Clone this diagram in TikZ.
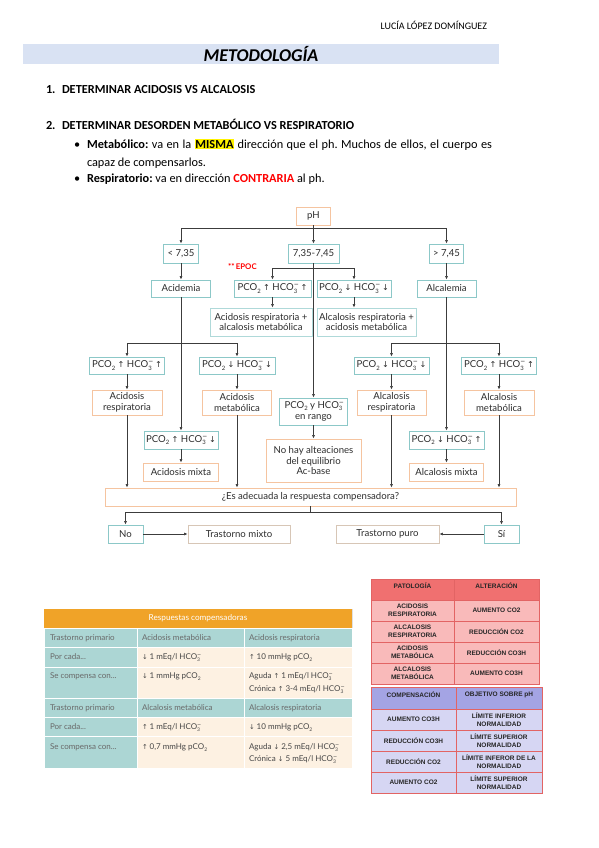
\documentclass[tikz,border=0pt]{standalone}
\usepackage{fontspec}
\setmainfont{Carlito}
\newfontfamily\flow{Lato}
\newfontfamily\arialf{Liberation Sans}
\newfontfamily\symf{DejaVu Sans}
\usetikzlibrary{arrows.meta}
\definecolor{tealb}{RGB}{140,200,200}
\definecolor{tealc}{RGB}{172,214,212}
\definecolor{orangeb}{RGB}{245,196,160}
\definecolor{tanb}{RGB}{215,198,182}
\definecolor{linec}{RGB}{60,60,60}
\definecolor{txt}{RGB}{45,45,45}
\definecolor{band}{RGB}{217,226,243}
\definecolor{orng}{RGB}{240,163,40}
\definecolor{cream}{RGB}{253,241,226}
\definecolor{graytxt}{RGB}{105,105,105}
\definecolor{darktxt}{RGB}{70,70,70}
\definecolor{redh}{RGB}{240,112,112}
\definecolor{redr}{RGB}{249,186,186}
\definecolor{redb}{RGB}{226,100,100}
\definecolor{blueh}{RGB}{164,164,228}
\definecolor{bluer}{RGB}{214,214,243}
\newcommand\upa{{\symf\scalebox{0.85}{\char"2191}}}
\newcommand\dna{{\symf\scalebox{0.85}{\char"2193}}}
\newcommand\smallidx[1]{{\fontsize{0.62em}{0.62em}\selectfont #1}}
\newcommand\pcoo{PCO\raisebox{-0.45ex}{\smallidx{2}}}
\newcommand\hcoo{HCO\rlap{\raisebox{0.85ex}{\smallidx{\symf\char"2212}}}\raisebox{-0.45ex}{\smallidx{3}}\hspace{0.1em}}
\newcommand\pcol{pCO\raisebox{-0.45ex}{\smallidx{2}}}
\tikzset{
  tbox/.style={draw=tealb, line width=0.9pt, fill=white, text=txt,
    font=\flow\fontsize{9.6}{10.8}\selectfont, inner sep=1pt, align=center},
  obox/.style={tbox, draw=orangeb},
  bbox/.style={tbox, draw=tanb},
  arr/.style={draw=linec, line width=0.6pt, -{Latex[length=3.5pt,width=3pt]}},
  ln/.style={draw=linec, line width=0.6pt},
  txtn/.style={inner sep=0pt, outer sep=0pt},
  body/.style={txtn, anchor=base west, font=\fontsize{12.3}{14}\selectfont},
  tcell/.style={txtn, anchor=base west, font=\flow\fontsize{8}{9.5}\selectfont},
  rcell/.style={txtn, align=center, font=\arialf\bfseries\fontsize{6.5}{7.6}\selectfont, text=black!85}
}
\begin{document}
\begin{tikzpicture}[x=1pt,y=-1pt]
\useasboundingbox (0,0) rectangle (599,848);
\fill[white] (0,0) rectangle (599,848);

% ---------- header ----------
\node[txtn, anchor=base east, font=\fontsize{10}{12}\selectfont] (author) at (487,29.5) {LUCÍA LÓPEZ DOMÍNGUEZ};
\fill[band] (23,44) rectangle (499,64);
\node[txtn, font=\fontsize{18}{20}\selectfont\bfseries\itshape] (title) at (261,54) {METODOLOGÍA};

\node[body, font=\fontsize{12.3}{14}\selectfont\bfseries] (n1) at (46,94) {1.};
\node[body, font=\fontsize{12.3}{14}\selectfont\bfseries] (t1) at (62,94) {DETERMINAR ACIDOSIS VS ALCALOSIS};
\node[body, font=\fontsize{12.3}{14}\selectfont\bfseries] (n2) at (46,129) {2.};
\node[body, font=\fontsize{12.3}{14}\selectfont\bfseries] (t2) at (62,129) {DETERMINAR DESORDEN METABÓLICO VS RESPIRATORIO};
\node[body] (b1) at (74,148) {\textbullet};
\node[body] (l1) at (87,148) {\frenchspacing\setlength\fboxsep{0.6pt}\makebox[405pt][s]{\bfseries Metabólico: \mdseries va en la \colorbox{yellow}{\bfseries MISMA} dirección que el ph. Muchos de ellos, el cuerpo es}};
\node[body] (l2) at (87,166) {capaz de compensarlos.};
\node[body] (b2) at (74,182) {\textbullet};
\node[body] (l3) at (87,182) {\frenchspacing\bfseries Respiratorio: \mdseries va en dirección {\color{red}\bfseries CONTRARIA} al ph.};

% ---------- flowchart ----------
\node[obox, minimum width=34pt, minimum height=18pt] (ph) at (313.5,216) {pH};
\node[tbox, minimum width=35pt, minimum height=19pt] (lt) at (181,253.5) {< 7,35};
\node[tbox, minimum width=51pt, minimum height=19pt] (mid) at (313.5,253.5) {7,35-7,45};
\node[tbox, minimum width=34pt, minimum height=19pt] (gt) at (446.5,253.5) {> 7,45};
\node[txtn, anchor=west, text=red, font=\flow\bfseries\fontsize{7.8}{9}\selectfont] (epoc) at (228,267) {**\,EPOC};
\node[tbox, minimum width=59pt, minimum height=17pt] (acidemia) at (181,288.5) {Acidemia};
\node[tbox, minimum width=77pt, minimum height=17pt] (c1) at (272.5,288.5) {\pcoo\ \upa\ \hcoo\ \upa};
\node[tbox, minimum width=74pt, minimum height=17pt] (c2) at (354,288.5) {\pcoo\ \dna\ \hcoo\ \dna};
\node[tbox, minimum width=59pt, minimum height=17pt] (alcalemia) at (446.5,288.5) {Alcalemia};
\node[tbox, minimum width=102pt, minimum height=28pt, draw=tealb!70] (c1r) at (261,322) {Acidosis respiratoria +\\alcalosis metabólica};
\node[tbox, minimum width=99pt, minimum height=28pt, draw=tealb!70] (c2r) at (366.5,322) {Alcalosis respiratoria +\\acidosis metabólica};

\node[tbox, minimum width=75pt, minimum height=17pt] (a1) at (127,365.5) {\pcoo\ \upa\ \hcoo\ \upa};
\node[tbox, minimum width=76pt, minimum height=17pt] (a2) at (237,365.5) {\pcoo\ \dna\ \hcoo\ \dna};
\node[tbox, minimum width=75pt, minimum height=17pt] (bb1) at (391.5,365.5) {\pcoo\ \dna\ \hcoo\ \dna};
\node[tbox, minimum width=75pt, minimum height=17pt] (bb2) at (499,365.5) {\pcoo\ \upa\ \hcoo\ \upa};

\node[obox, minimum width=70pt, minimum height=25pt] (ar) at (127,402.5) {Acidosis\\respiratoria};
\node[obox, minimum width=69pt, minimum height=25pt] (am) at (237,402.5) {Acidosis\\metabólica};
\node[obox, minimum width=69pt, minimum height=25pt] (lr) at (391.5,402.5) {Alcalosis\\respiratoria};
\node[obox, minimum width=70pt, minimum height=25pt] (lm) at (499,402.5) {Alcalosis\\metabólica};

\node[tbox, minimum width=68pt, minimum height=27pt] (rango) at (313.5,411.5) {\pcoo\ y \hcoo\\en rango};
\node[obox, minimum width=95pt, minimum height=43pt] (nohay) at (313.5,460.5) {No hay alteaciones\\del equilibrio\\Ac-base};

\node[tbox, minimum width=74pt, minimum height=18pt] (a3) at (181,440) {\pcoo\ \upa\ \hcoo\ \dna};
\node[obox, minimum width=75pt, minimum height=18pt] (amix) at (181,472) {Acidosis mixta};
\node[tbox, minimum width=75pt, minimum height=18pt] (bb3) at (446.5,440) {\pcoo\ \dna\ \hcoo\ \upa};
\node[obox, minimum width=74pt, minimum height=18pt] (bmix) at (446.5,472) {Alcalosis mixta};

\node[obox, minimum width=411pt, minimum height=18pt] (es) at (310.5,497) {¿Es adecuada la respuesta compensadora?};
\node[tbox, minimum width=35pt, minimum height=18pt] (no) at (125.5,534) {No};
\node[bbox, minimum width=102pt, minimum height=18pt] (tmix) at (239,534) {Trastorno mixto};
\node[bbox, minimum width=103pt, minimum height=18pt] (tpuro) at (387.5,534) {Trastorno puro};
\node[tbox, minimum width=35pt, minimum height=18pt] (si) at (501.5,534) {Sí};

\coordinate (j1) at (313.5,228);
\coordinate (j2) at (313.5,268);
\coordinate (j3) at (181,343);
\coordinate (j4) at (446.5,343);
\coordinate (j5) at (310.5,512);

\draw[arr] (ph.south) -- (mid.north);
\draw[arr] (j1) -| (lt.north);
\draw[arr] (j1) -| (gt.north);
\draw[arr] (lt.south) -- (acidemia.north);
\draw[arr] (gt.south) -- (alcalemia.north);
\draw[arr] (mid.south) -- (rango.north);
\draw[arr] (j2) -| (c1.north);
\draw[arr] (j2) -| (c2.north);
\draw[arr] (c1.south) -- (c1.south |- c1r.north);
\draw[arr] (c2.south) -- (c2.south |- c2r.north);
\draw[arr] (acidemia.south) -- (a3.north);
\draw[arr] (alcalemia.south) -- (bb3.north);
\draw[arr] (j3) -| (a1.north);
\draw[arr] (j3) -| (a2.north);
\draw[arr] (j4) -| (bb1.north);
\draw[arr] (j4) -| (bb2.north);
\draw[arr] (a1.south) -- (ar.north);
\draw[arr] (a2.south) -- (am.north);
\draw[arr] (bb1.south) -- (lr.north);
\draw[arr] (bb2.south) -- (lm.north);
\draw[arr] (a3.south) -- (amix.north);
\draw[arr] (bb3.south) -- (bmix.north);
\draw[arr] (rango.south) -- (nohay.north);
\draw[arr] (ar.south) -- (ar.south |- es.north);
\draw[arr] (am.south) -- (am.south |- es.north);
\draw[arr] (lr.south) -- (lr.south |- es.north);
\draw[arr] (lm.south) -- (lm.south |- es.north);
\draw[ln] (es.south) -- (j5);
\draw[arr] (j5) -| (no.north);
\draw[arr] (j5) -| (si.north);
\draw[arr] (no.east) -- (tmix.west);
\draw[arr] (si.west) -- (tpuro.east);

% ---------- left table ----------
\draw[black!12, line width=0.6pt] (44,609) rectangle (352,768);
\fill[orng] (44,609) rectangle (352,628);
\node[txtn, text=white, font=\flow\fontsize{8.2}{9.5}\selectfont] (th) at (198,618.5) {Respuestas compensadoras};
\foreach \ya/\yb in {628/647,698/717} {
  \filldraw[fill=tealc, draw=white, line width=1pt] (44,\ya) rectangle (137,\yb);
  \filldraw[fill=tealc, draw=white, line width=1pt] (137,\ya) rectangle (244,\yb);
  \filldraw[fill=tealc, draw=white, line width=1pt] (244,\ya) rectangle (352,\yb);
}
\foreach \ya/\yb in {647/667,667/698,717/736,736/768} {
  \filldraw[fill=tealc, draw=white, line width=1pt] (44,\ya) rectangle (137,\yb);
  \filldraw[fill=cream, draw=white, line width=1pt] (137,\ya) rectangle (244,\yb);
  \filldraw[fill=cream, draw=white, line width=1pt] (244,\ya) rectangle (352,\yb);
}
\node[tcell, text=graytxt] (r1a) at (50,640.5) {Trastorno primario};
\node[tcell, text=graytxt] (r1b) at (142,640.5) {Acidosis metabólica};
\node[tcell, text=graytxt] (r1c) at (249,640.5) {Acidosis respiratoria};
\node[tcell, text=graytxt] (r2a) at (50,659.5) {Por cada...};
\node[tcell, text=darktxt] (r2b) at (142,659.5) {\dna\ 1 mEq/l \hcoo};
\node[tcell, text=darktxt] (r2c) at (249,659.5) {\upa\ 10 mmHg \pcol};
\node[tcell, text=graytxt] (r3a) at (50,678.5) {Se compensa con...};
\node[tcell, text=darktxt] (r3b) at (142,678.5) {\dna\ 1 mmHg \pcol};
\node[tcell, text=darktxt] (r3c) at (249,678.5) {Aguda \upa\ 1 mEq/l \hcoo};
\node[tcell, text=darktxt] (r3d) at (249,691.5) {Crónica \upa\ 3-4 mEq/l \hcoo};
\node[tcell, text=graytxt] (r4a) at (50,710.5) {Trastorno primario};
\node[tcell, text=graytxt] (r4b) at (142,710.5) {Alcalosis metabólica};
\node[tcell, text=graytxt] (r4c) at (249,710.5) {Alcalosis respiratoria};
\node[tcell, text=graytxt] (r5a) at (50,729.5) {Por cada...};
\node[tcell, text=darktxt] (r5b) at (142,729.5) {\upa\ 1 mEq/l \hcoo};
\node[tcell, text=darktxt] (r5c) at (249,729.5) {\dna\ 10 mmHg \pcol};
\node[tcell, text=graytxt] (r6a) at (50,749.5) {Se compensa con...};
\node[tcell, text=darktxt] (r6b) at (142,749.5) {\upa\ 0,7 mmHg \pcol};
\node[tcell, text=darktxt] (r6c) at (249,749.5) {Aguda \dna\ 2,5 mEq/l \hcoo};
\node[tcell, text=darktxt] (r6d) at (249,761.5) {Crónica \dna\ 5 mEq/l \hcoo};

% ---------- right table 1 ----------
\filldraw[fill=redh, draw=redb, line width=0.8pt] (371,579) rectangle (454,600);
\filldraw[fill=redh, draw=redb, line width=0.8pt] (454,579) rectangle (539,600);
\foreach \ya/\yb in {600/621,621/642,642/663,663/684} {
  \filldraw[fill=redr, draw=redb, line width=0.8pt] (371,\ya) rectangle (454,\yb);
  \filldraw[fill=redr, draw=redb, line width=0.8pt] (454,\ya) rectangle (539,\yb);
}
\node[rcell] (p0a) at (412.5,586) {PATOLOGÍA};
\node[rcell] (p0b) at (496.5,586) {ALTERACIÓN};
\node[rcell] (p1a) at (412.5,610.5) {ACIDOSIS\\RESPIRATORIA};
\node[rcell] (p1b) at (496.5,610.5) {AUMENTO CO2};
\node[rcell] (p2a) at (412.5,631.5) {ALCALOSIS\\RESPIRATORIA};
\node[rcell] (p2b) at (496.5,631.5) {REDUCCIÓN CO2};
\node[rcell] (p3a) at (412.5,652.5) {ACIDOSIS\\METABÓLICA};
\node[rcell] (p3b) at (496.5,652.5) {REDUCCIÓN CO3H};
\node[rcell] (p4a) at (412.5,673.5) {ALCALOSIS\\METABÓLICA};
\node[rcell] (p4b) at (496.5,673.5) {AUMENTO CO3H};

% ---------- right table 2 ----------
\filldraw[fill=blueh, draw=redb, line width=0.8pt] (371,687) rectangle (456,709);
\filldraw[fill=blueh, draw=redb, line width=0.8pt] (456,687) rectangle (542,709);
\foreach \ya/\yb in {709/730,730/751,751/772,772/793} {
  \filldraw[fill=bluer, draw=redb, line width=0.8pt] (371,\ya) rectangle (456,\yb);
  \filldraw[fill=bluer, draw=redb, line width=0.8pt] (456,\ya) rectangle (542,\yb);
}
\node[rcell] (q0a) at (413.5,694.5) {COMPENSACIÓN};
\node[rcell] (q0b) at (499,694.5) {OBJETIVO SOBRE pH};
\node[rcell] (q1a) at (413.5,719.5) {AUMENTO CO3H};
\node[rcell] (q1b) at (499,719.5) {LÍMITE INFERIOR\\NORMALIDAD};
\node[rcell] (q2a) at (413.5,740.5) {REDUCCIÓN CO3H};
\node[rcell] (q2b) at (499,740.5) {LÍMITE SUPERIOR\\NORMALIDAD};
\node[rcell] (q3a) at (413.5,761.5) {REDUCCIÓN CO2};
\node[rcell] (q3b) at (499,761.5) {LÍMITE INFEROR DE LA\\NORMALIDAD};
\node[rcell] (q4a) at (413.5,782.5) {AUMENTO CO2};
\node[rcell] (q4b) at (499,782.5) {LÍMITE SUPERIOR\\NORMALIDAD};
\end{tikzpicture}
\end{document}
